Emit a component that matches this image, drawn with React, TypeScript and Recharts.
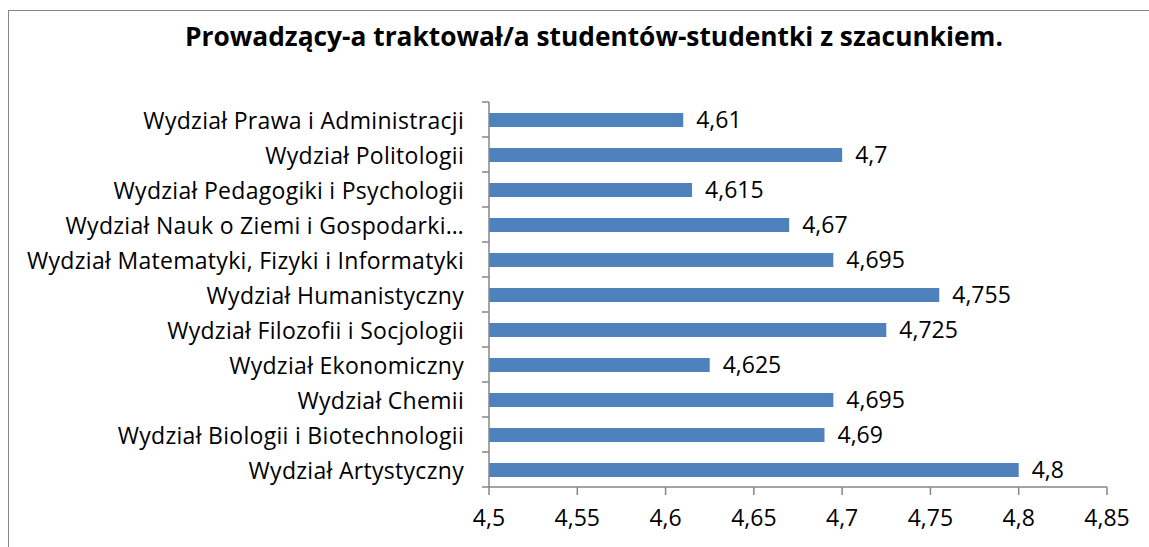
import React from "react";
import { Bar, BarChart, LabelList, XAxis, YAxis } from "recharts";

const faculties = [
  "Wydział Prawa i Administracji",
  "Wydział Politologii",
  "Wydział Pedagogiki i Psychologii",
  "Wydział Nauk o Ziemi i Gospodarki…",
  "Wydział Matematyki, Fizyki i Informatyki",
  "Wydział Humanistyczny",
  "Wydział Filozofii i Socjologii",
  "Wydział Ekonomiczny",
  "Wydział Chemii",
  "Wydział Biologii i Biotechnologii",
  "Wydział Artystyczny",
];
const scores = [4.61, 4.7, 4.615, 4.67, 4.695, 4.755, 4.725, 4.625, 4.695, 4.69, 4.8];
const xTicks = [4.5, 4.55, 4.6, 4.65, 4.7, 4.75, 4.8, 4.85];

const data = faculties.map((name, i) => ({ name, score: scores[i] }));

const W = 1149;
const H = 547;
const FONT = "'Open Sans', sans-serif";
const FS = 23;
const TOP = 102;
const BOTTOM = 60;
const band = (H - TOP - BOTTOM) / faculties.length;

const fmt = (v: number) => String(v).replace(".", ",");

const CategoryTick = (props: any) => {
  const { x, y, payload, index } = props;
  const ax = x + 25;
  return (
    <g>
      <text
        x={x}
        y={y}
        textAnchor="end"
        dominantBaseline="central"
        fontSize={FS}
        letterSpacing={0.3}
        fill="#000"
        fontFamily={FONT}
      >
        {payload.value}
      </text>
      <line x1={ax - 7} x2={ax} y1={y - band / 2} y2={y - band / 2} stroke="#868686" strokeWidth={1.5} />
      {index === faculties.length - 1 && (
        <line x1={ax - 7} x2={ax} y1={y + band / 2} y2={y + band / 2} stroke="#868686" strokeWidth={1.5} />
      )}
    </g>
  );
};

export default function App() {
  return (
    <div style={{ position: "absolute", left: 0, top: 0, width: W, height: H, background: "#fff", overflow: "hidden" }}>
      <div
        style={{
          position: "absolute",
          left: 8,
          top: 10,
          width: W + 20,
          height: H + 20,
          border: "1.5px solid #868686",
        }}
      />
      <div
        style={{
          position: "absolute",
          left: 0,
          top: 18,
          width: 1188,
          textAlign: "center",
          fontFamily: FONT,
          fontWeight: "bold",
          fontSize: 26.3,
          color: "#000",
          whiteSpace: "nowrap",
        }}
      >
        Prowadzący-a traktował/a studentów-studentki z szacunkiem.
      </div>
      <div style={{ position: "absolute", left: 0, top: 0 }}>
        <BarChart
          width={W}
          height={H}
          data={data}
          layout="vertical"
          margin={{ top: TOP, right: 42, bottom: BOTTOM - 40, left: 0 }}
          barCategoryGap={0}
        >
          <XAxis
            type="number"
            domain={[4.5, 4.85]}
            ticks={xTicks}
            tickFormatter={fmt}
            interval={0}
            height={40}
            axisLine={{ stroke: "#868686", strokeWidth: 1.5 }}
            tickLine={{ stroke: "#868686", strokeWidth: 1.5 }}
            tickSize={8}
            tickMargin={15}
            tick={{ fontSize: FS, fill: "#000", fontFamily: FONT }}
            allowDataOverflow
          />
          <YAxis
            type="category"
            dataKey="name"
            width={489}
            interval={0}
            axisLine={{ stroke: "#868686", strokeWidth: 1.5 }}
            tickLine={false}
            tickSize={0}
            tickMargin={25}
            tick={<CategoryTick />}
          />
          <Bar dataKey="score" fill="#4F81BD" barSize={14} isAnimationActive={false}>
            <LabelList
              dataKey="score"
              position="right"
              offset={13}
              formatter={(v: any) => fmt(v)}
              style={{ fontSize: FS, fill: "#000", fontFamily: FONT }}
            />
          </Bar>
        </BarChart>
      </div>
    </div>
  );
}
